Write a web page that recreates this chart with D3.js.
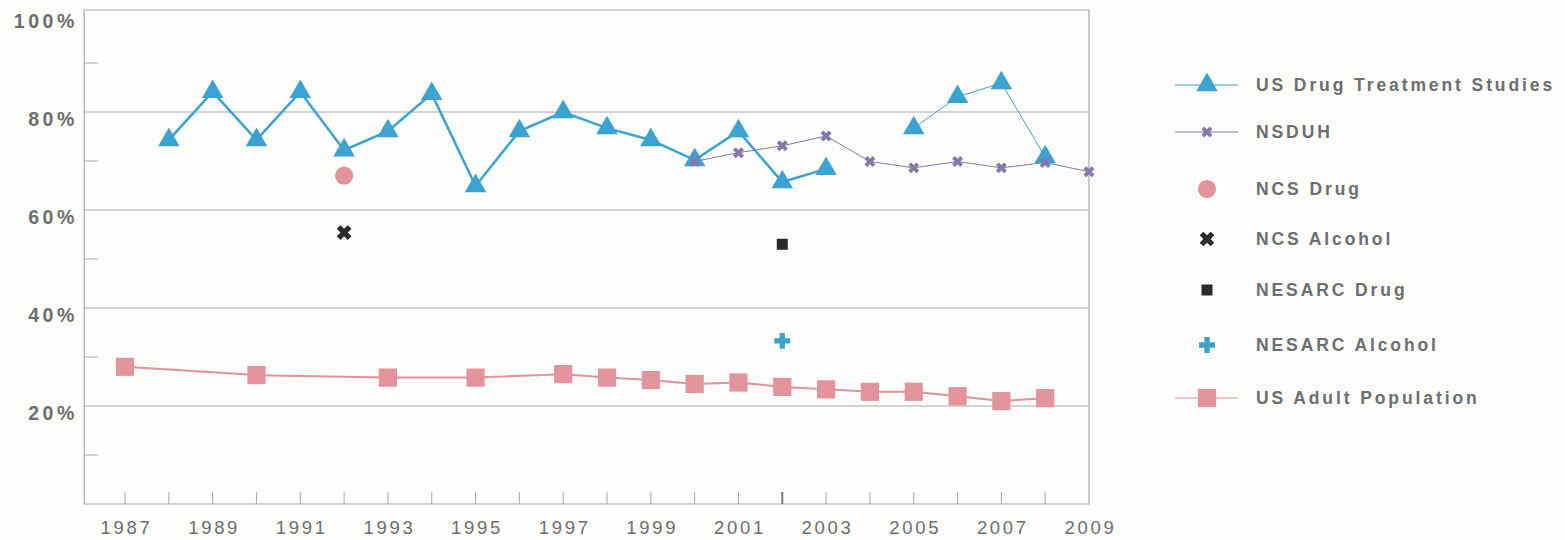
<!DOCTYPE html>
<html>
<head>
<meta charset="utf-8">
<script src="https://cdn.jsdelivr.net/npm/d3@7"></script>
<style>
  body { margin: 0; background: #fdfdfb; }
  svg { display: block; font-family: "Liberation Sans", Arial, sans-serif; }
  .ylab { font-weight: bold; font-size: 19.5px; letter-spacing: 3.6px; fill: #6d6e71; }
  .xlab { font-size: 18.5px; letter-spacing: 2.7px; fill: #6d6e71; }
  .leg { font-weight: bold; font-size: 17.5px; letter-spacing: 2.9px; fill: #6d6e71; }
</style>
</head>
<body>
<div id="chart"></div>
<script>
// years on the axis
const years = d3.range(1987, 2010);
const yearLabels = [1987, 1989, 1991, 1993, 1995, 1997, 1999, 2001, 2003, 2005, 2007, 2009];
const gridValues = [20, 40, 60, 80];
const minorValues = [10, 30, 50, 70, 90];
const yLabels = [20, 40, 60, 80, 100];

// US Drug Treatment Studies (gap in 2004)
const treatYears = [1988, 1989, 1990, 1991, 1992, 1993, 1994, 1995, 1996, 1997, 1998, 1999, 2000, 2001, 2002, 2003, 2004, 2005, 2006, 2007, 2008];
const treatValues = [74.3, 84.1, 74.3, 84.1, 72.2, 76.1, 83.7, 64.9, 76.1, 80, 76.7, 74.3, 70.2, 76.1, 65.7, 68.4, null, 76.7, 83.1, 85.9, 70.8];

// NSDUH
const nsduhYears = [2000, 2001, 2002, 2003, 2004, 2005, 2006, 2007, 2008, 2009];
const nsduhValues = [69.9, 71.7, 73.1, 75.1, 69.9, 68.6, 69.9, 68.6, 69.7, 67.8];

// single-point surveys
const ncsDrug = { year: 1992, value: 67 };
const ncsAlcohol = { year: 1992, value: 55.4 };
const nesarcDrug = { year: 2002, value: 53 };
const nesarcAlcohol = { year: 2002, value: 33.3 };

// US Adult Population
const popYears = [1987, 1990, 1993, 1995, 1997, 1998, 1999, 2000, 2001, 2002, 2003, 2004, 2005, 2006, 2007, 2008];
const popValues = [28.0, 26.3, 25.8, 25.8, 26.5, 25.8, 25.3, 24.5, 24.8, 23.9, 23.4, 22.9, 22.9, 22.0, 21.0, 21.6];

const legendItems = [
  { label: "US Drug Treatment Studies", key: "treat" },
  { label: "NSDUH", key: "nsduh" },
  { label: "NCS Drug", key: "ncsDrug" },
  { label: "NCS Alcohol", key: "ncsAlc" },
  { label: "NESARC Drug", key: "nesDrug" },
  { label: "NESARC Alcohol", key: "nesAlc" },
  { label: "US Adult Population", key: "pop" }
];

const BLUE = "#3ba3d1", PURPLE = "#8679aa", PINK = "#e3939a", DARK = "#2b2b2b", GRID = "#a9a9a9";

const width = 1565, height = 540;
const svg = d3.select("#chart").append("svg")
  .attr("width", width)
  .attr("height", height);

const x = d3.scaleLinear().domain([1986, 2009]).range([81.2, 1089]);
const y = d3.scaleLinear().domain([0, 100]).range([504, 14]);
const plotLeft = x(1986) + 3, plotRight = x(2009), plotTop = y(100) - 4, plotBottom = y(0);

// frame and gridlines
svg.append("g").selectAll("line")
  .data(gridValues)
  .join("line")
  .attr("x1", plotLeft).attr("x2", plotRight)
  .attr("y1", d => y(d)).attr("y2", d => y(d))
  .attr("stroke", GRID).attr("stroke-width", 1.2);

svg.append("g").selectAll("line")
  .data(minorValues)
  .join("line")
  .attr("x1", plotLeft).attr("x2", plotLeft + 14)
  .attr("y1", d => y(d)).attr("y2", d => y(d))
  .attr("stroke", GRID).attr("stroke-width", 1);

svg.append("path")
  .attr("d", `M${plotLeft},${plotTop}H${plotRight}V${plotBottom}H${plotLeft}Z`)
  .attr("fill", "none").attr("stroke", GRID).attr("stroke-width", 1.2);

// x ticks (inside, pointing up)
svg.append("g").selectAll("line")
  .data(years.filter(d => d < 2009))
  .join("line")
  .attr("x1", d => x(d)).attr("x2", d => x(d))
  .attr("y1", plotBottom).attr("y2", plotBottom - 12)
  .attr("stroke", d => d === 2002 ? "#777" : GRID)
  .attr("stroke-width", d => d === 2002 ? 2 : 1);

svg.append("g").selectAll("text")
  .data(yearLabels)
  .join("text")
  .attr("class", "xlab")
  .attr("x", d => x(d) + 1.5)
  .attr("y", 534)
  .attr("text-anchor", "middle")
  .text(d => d);

svg.append("g").selectAll("text")
  .data(yLabels)
  .join("text")
  .attr("class", "ylab")
  .attr("x", 78)
  .attr("y", d => y(d) + 14)
  .attr("text-anchor", "end")
  .text(d => d + "%");

// symbols
const tri = d3.symbol().type(d3.symbolTriangle).size(200);
const xMark = d3.symbol().type(d3.symbolCross).size(75);
const bigX = d3.symbol().type(d3.symbolCross).size(135);
const plus = d3.symbol().type(d3.symbolCross).size(140);
const sq = d3.symbol().type(d3.symbolSquare).size(330);
const smallSq = d3.symbol().type(d3.symbolSquare).size(121);
const circ = d3.symbol().type(d3.symbolCircle).size(260);

const line = d3.line()
  .defined(d => d.value != null)
  .x(d => x(d.year))
  .y(d => y(d.value));

// US Adult Population
const popData = popYears.map((yr, i) => ({ year: yr, value: popValues[i] }));
svg.append("path")
  .datum(popData)
  .attr("d", line)
  .attr("fill", "none").attr("stroke", PINK).attr("stroke-width", 2);
svg.append("g").selectAll("path")
  .data(popData)
  .join("path")
  .attr("transform", d => `translate(${x(d.year)},${y(d.value)})`)
  .attr("d", sq)
  .attr("fill", PINK);

// US Drug Treatment Studies: two runs, the later one drawn thin
const treatData = treatYears.map((yr, i) => ({ year: yr, value: treatValues[i] }));
const gapAt = treatData.findIndex(d => d.value == null);
const runs = [treatData.slice(0, gapAt), treatData.slice(gapAt + 1)];
svg.append("g").selectAll("path")
  .data(runs)
  .join("path")
  .attr("d", line)
  .attr("fill", "none").attr("stroke", BLUE)
  .attr("stroke-width", (d, i) => i === 0 ? 2.5 : 1);

// NSDUH
const nsduhData = nsduhYears.map((yr, i) => ({ year: yr, value: nsduhValues[i] }));
svg.append("path")
  .datum(nsduhData)
  .attr("d", line)
  .attr("fill", "none").attr("stroke", PURPLE).attr("stroke-width", 1);

svg.append("g").selectAll("path")
  .data(treatData.filter(d => d.value != null))
  .join("path")
  .attr("transform", d => `translate(${x(d.year)},${y(d.value)})`)
  .attr("d", tri)
  .attr("fill", BLUE);

svg.append("g").selectAll("path")
  .data(nsduhData)
  .join("path")
  .attr("transform", d => `translate(${x(d.year)},${y(d.value)}) rotate(45)`)
  .attr("d", xMark)
  .attr("fill", PURPLE);

// single points
svg.append("path")
  .attr("transform", `translate(${x(ncsDrug.year)},${y(ncsDrug.value)})`)
  .attr("d", circ).attr("fill", PINK);
svg.append("path")
  .attr("transform", `translate(${x(ncsAlcohol.year)},${y(ncsAlcohol.value)}) rotate(45)`)
  .attr("d", bigX).attr("fill", DARK);
svg.append("path")
  .attr("transform", `translate(${x(nesarcDrug.year)},${y(nesarcDrug.value)})`)
  .attr("d", smallSq).attr("fill", DARK);
svg.append("path")
  .attr("transform", `translate(${x(nesarcAlcohol.year)},${y(nesarcAlcohol.value)})`)
  .attr("d", plus).attr("fill", BLUE);

// legend
const legendY = [85, 132, 189, 239, 290, 345, 398];
const lx = 1207;
const legend = svg.append("g").selectAll("g")
  .data(legendItems)
  .join("g")
  .attr("transform", (d, i) => `translate(${lx},${legendY[i]})`);

legend.append("text")
  .attr("class", "leg")
  .attr("x", 49)
  .attr("y", 6)
  .text(d => d.label);

legend.each(function (d) {
  const g = d3.select(this);
  if (d.key === "treat" || d.key === "nsduh" || d.key === "pop") {
    g.append("line")
      .attr("x1", -32).attr("x2", 31)
      .attr("stroke", d.key === "treat" ? BLUE : d.key === "nsduh" ? PURPLE : PINK)
      .attr("stroke-width", 1);
  }
  if (d.key === "treat") g.append("path").attr("d", tri).attr("fill", BLUE);
  if (d.key === "nsduh") g.append("path").attr("d", xMark).attr("transform", "rotate(45)").attr("fill", PURPLE);
  if (d.key === "ncsDrug") g.append("path").attr("d", circ).attr("fill", PINK);
  if (d.key === "ncsAlc") g.append("path").attr("d", bigX).attr("transform", "rotate(45)").attr("fill", DARK);
  if (d.key === "nesDrug") g.append("path").attr("d", smallSq).attr("fill", DARK);
  if (d.key === "nesAlc") g.append("path").attr("d", plus).attr("fill", BLUE);
  if (d.key === "pop") g.append("path").attr("d", sq).attr("fill", PINK);
});
</script>
</body>
</html>
